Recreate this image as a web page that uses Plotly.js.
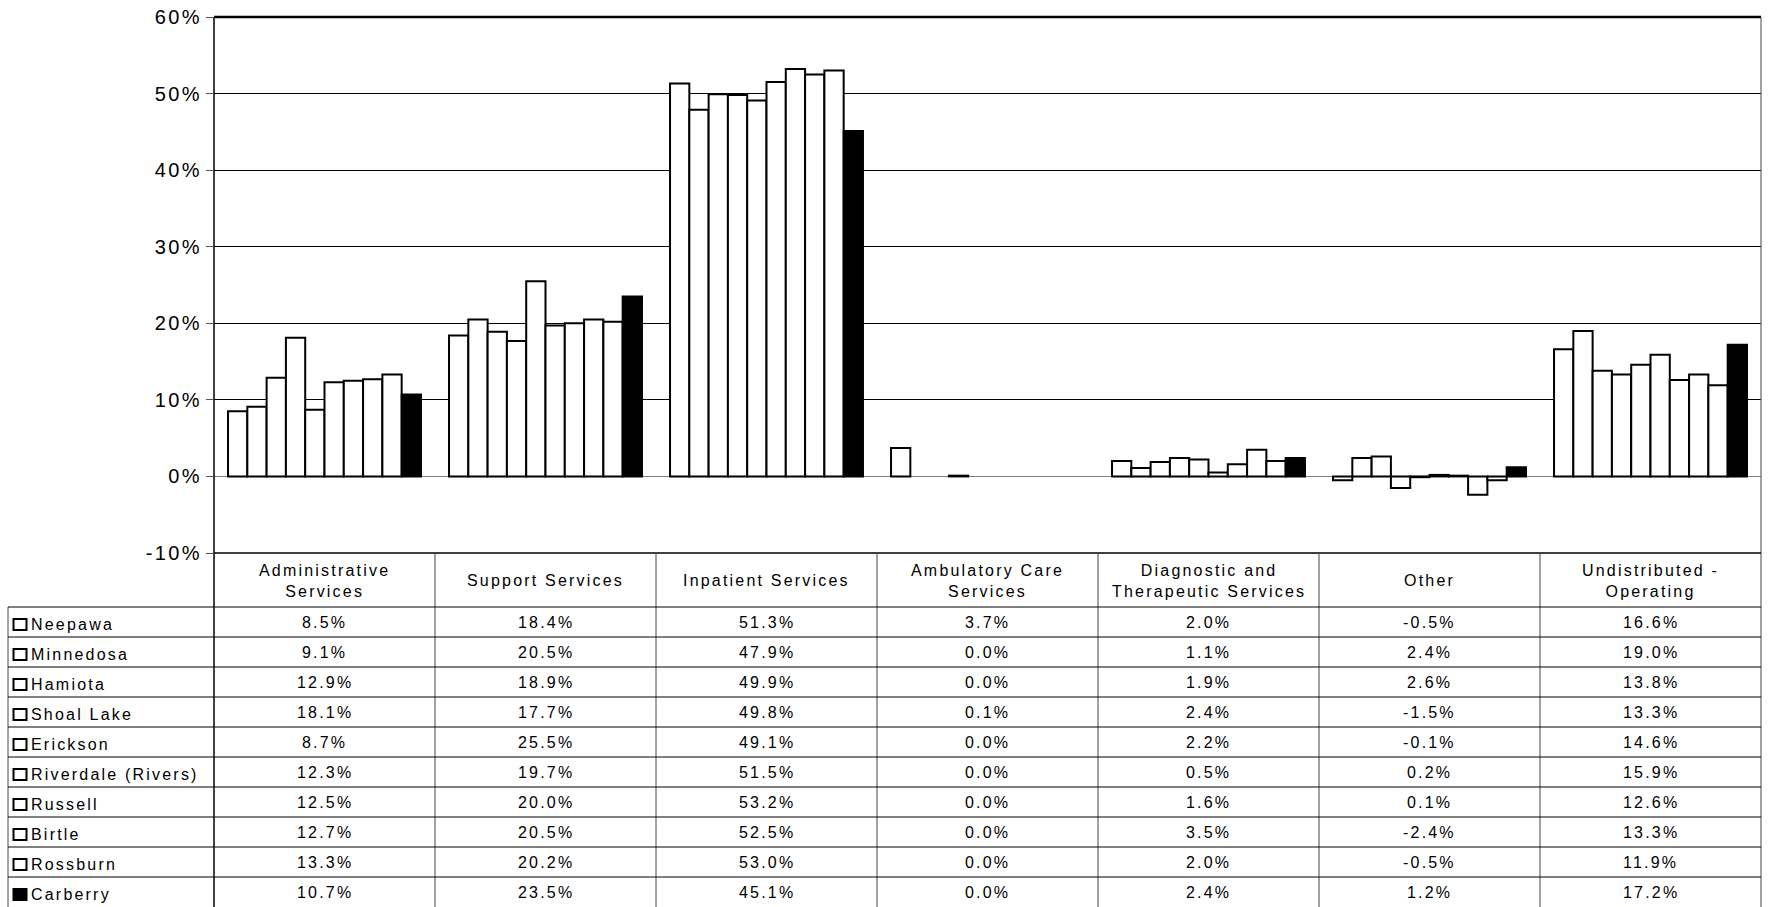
<!DOCTYPE html>
<html>
<head>
<meta charset="utf-8">
<script src="https://cdn.plot.ly/plotly-3.0.1.min.js"></script>
<style>
  html, body { margin: 0; padding: 0; background: #fff; }
  #chart { width: 1769px; height: 907px; }
  .annotation-text { letter-spacing: 2.2px; }
  #chart .ytick text { letter-spacing: 2.4px; }
</style>
</head>
<body>
<div id="chart"></div>
<script>
// Cost categories (column headers of the data table)
const categories = [
  'Administrative<br>Services',
  'Support Services',
  'Inpatient Services',
  'Ambulatory Care<br>Services',
  'Diagnostic and<br>Therapeutic Services',
  'Other',
  'Undistributed -<br>Operating'
];

// Facilities (one series each)
const sites = ['Neepawa', 'Minnedosa', 'Hamiota', 'Shoal Lake', 'Erickson',
  'Riverdale (Rivers)', 'Russell', 'Birtle', 'Rossburn', 'Carberry'];

// Share of expenses (%) per category, one array per facility
const neepawa   = [8.5, 18.4, 51.3, 3.7, 2.0, -0.5, 16.6];
const minnedosa = [9.1, 20.5, 47.9, 0.0, 1.1, 2.4, 19.0];
const hamiota   = [12.9, 18.9, 49.9, 0.0, 1.9, 2.6, 13.8];
const shoalLake = [18.1, 17.7, 49.8, 0.1, 2.4, -1.5, 13.3];
const erickson  = [8.7, 25.5, 49.1, 0.0, 2.2, -0.1, 14.6];
const riverdale = [12.3, 19.7, 51.5, 0.0, 0.5, 0.2, 15.9];
const russell   = [12.5, 20.0, 53.2, 0.0, 1.6, 0.1, 12.6];
const birtle    = [12.7, 20.5, 52.5, 0.0, 3.5, -2.4, 13.3];
const rossburn  = [13.3, 20.2, 53.0, 0.0, 2.0, -0.5, 11.9];
const carberry  = [10.7, 23.5, 45.1, 0.0, 2.4, 1.2, 17.2];

const series = [neepawa, minnedosa, hamiota, shoalLake, erickson,
  riverdale, russell, birtle, rossburn, carberry];
const highlighted = 'Carberry';

const yTicks = [-10, 0, 10, 20, 30, 40, 50, 60];

// ---- page geometry (pixels) ----
const W = 1769, H = 907;
const plotL = 214, plotR = 1761, plotT = 17, plotB = 553;
const tableL = 8;
const headerB = 607;
const rowH = 30.0;

const px = X => (X - plotL) / (plotR - plotL);
const py = Y => (plotB - Y) / (plotB - plotT);

const FONT = 'Liberation Sans, Arial, sans-serif';
const catIdx = categories.map((_, i) => i);

const traces = sites.map((name, s) => ({
  type: 'bar',
  name: name,
  x: catIdx,
  y: series[s],
  marker: {
    color: name === highlighted ? '#000000' : '#ffffff',
    // empty (zero) bars get no outline
    line: { color: '#000000', width: series[s].map(v => v === 0 ? 0 : 2) }
  },
  hoverinfo: 'skip'
}));

const shapes = [];
const annotations = [];
const lineBlack = { color: '#000000', width: 1 };
const lineGrey = { color: '#444444', width: 1 };

// plot frame: heavy top edge, light right edge
shapes.push({ type: 'line', xref: 'paper', yref: 'paper', x0: 0, x1: 1, y0: 1, y1: 1,
  line: { color: '#000', width: 2.5 } });
shapes.push({ type: 'line', xref: 'paper', yref: 'paper', x0: 1, x1: 1, y0: 1, y1: py(H),
  line: lineGrey });
// left axis line extends down through the table
shapes.push({ type: 'line', xref: 'paper', yref: 'paper', x0: 0, x1: 0, y0: 1, y1: py(H),
  line: { color: '#000', width: 1.5 } });
// -10% baseline / table top
shapes.push({ type: 'line', xref: 'paper', yref: 'paper', x0: 0, x1: 1, y0: 0, y1: 0,
  line: { color: '#000', width: 1.5 } });

// table column separators
for (let k = 1; k < categories.length; k++) {
  const xx = k / categories.length;
  shapes.push({ type: 'line', xref: 'paper', yref: 'paper', x0: xx, x1: xx, y0: 0, y1: py(H),
    line: lineGrey });
}
// legend column left border
shapes.push({ type: 'line', xref: 'paper', yref: 'paper', x0: px(tableL), x1: px(tableL),
  y0: py(headerB), y1: py(H), line: lineGrey });
// horizontal row lines
for (let r = 0; r < sites.length; r++) {
  const Y = headerB + r * rowH;
  shapes.push({ type: 'line', xref: 'paper', yref: 'paper', x0: px(tableL), x1: 1,
    y0: py(Y), y1: py(Y), line: lineBlack });
}

// header labels
categories.forEach((c, i) => {
  annotations.push({
    xref: 'x', yref: 'paper', x: i, y: py((plotB + headerB) / 2 + 0.5),
    text: c, showarrow: false, xanchor: 'center', yanchor: 'middle',
    font: { family: FONT, size: 16, color: '#000' }
  });
});

// data rows with legend keys
sites.forEach((name, s) => {
  const top = headerB + s * rowH;
  const mid = top + rowH / 2;
  shapes.push({ type: 'rect', xref: 'paper', yref: 'paper',
    x0: px(13.5), x1: px(26.5), y0: py(mid - 3), y1: py(mid + 8),
    fillcolor: name === highlighted ? '#000' : '#fff',
    line: { color: '#000', width: 2 } });
  annotations.push({
    xref: 'paper', yref: 'paper', x: px(29), y: py(mid + 2.5),
    text: name, showarrow: false, xanchor: 'left', yanchor: 'middle',
    font: { family: FONT, size: 16, color: '#000' }
  });
  series[s].forEach((v, i) => {
    annotations.push({
      xref: 'x', yref: 'paper', x: i, y: py(mid),
      text: v.toFixed(1) + '%', showarrow: false, xanchor: 'center', yanchor: 'middle',
      font: { family: FONT, size: 16, color: '#000' }
    });
  });
});

const layout = {
  width: W, height: H,
  margin: { l: plotL, r: W - plotR, t: plotT, b: H - plotB, pad: 0 },
  paper_bgcolor: '#fff', plot_bgcolor: '#fff',
  showlegend: false,
  barmode: 'group', bargap: 0.127, bargroupgap: 0,
  xaxis: {
    range: [-0.5, categories.length - 0.5],
    showticklabels: false, showgrid: false, zeroline: false, showline: false,
    ticks: '', fixedrange: true
  },
  yaxis: {
    range: [-10, 60], tickvals: yTicks, ticktext: yTicks.map(v => v + '%'),
    showgrid: true, gridcolor: '#000', gridwidth: 1,
    zeroline: true, zerolinecolor: '#808080', zerolinewidth: 1,
    showline: false, ticks: 'outside', ticklen: 7, tickcolor: '#555', tickwidth: 1,
    tickfont: { family: FONT, size: 20, color: '#000' }, fixedrange: true
  },
  shapes: shapes,
  annotations: annotations
};

Plotly.newPlot('chart', traces, layout, { staticPlot: true, displayModeBar: false });
</script>
</body>
</html>
